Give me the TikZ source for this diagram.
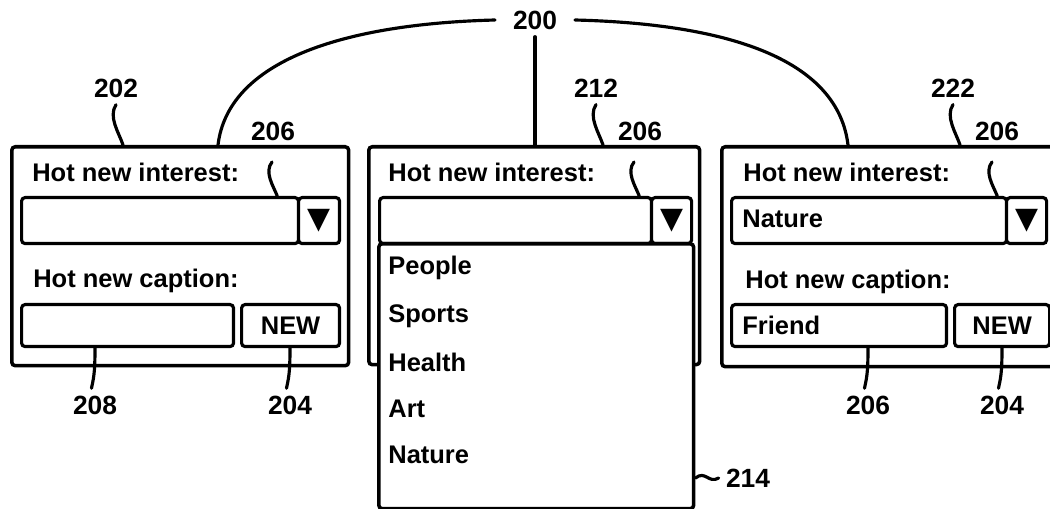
\documentclass[tikz,border=0pt]{standalone}
\usepackage{fontspec}
\setmainfont{Liberation Sans}
\newfontfamily\symbfont{DejaVu Sans}
\tikzset{
  panel/.style={draw, line width=2pt, rounded corners=2pt, anchor=north west, inner sep=0pt},
  field/.style={draw, line width=1.8pt, rounded corners=2pt, fill=white, anchor=north west, inner sep=0pt,
    font=\bfseries\fontsize{14.5}{15}\selectfont},
  txt/.style={font=\bfseries\fontsize{14.5}{15}\selectfont, anchor=west, inner sep=0pt},
  lbl/.style={font=\bfseries\fontsize{15}{15}\selectfont, inner sep=4pt},
  arrowhead/.style={font=\symbfont\fontsize{17}{17}\selectfont, inner sep=0pt},
  lead/.style={line width=1.8pt, line cap=round}
}
\begin{document}
\begin{tikzpicture}[x=0.02cm, y=-0.02cm]
  \clip (0,0) rectangle (1050,509);
  % first panel
  \node[panel, minimum width=6.74cm, minimum height=4.38cm] (p1) at (10,145) {};
  \node[txt] (h1) at (32,172) {Hot new interest:};
  \node[field, minimum width=5.54cm, minimum height=0.92cm] (f1) at (20,196) {};
  \node[field, minimum width=0.82cm, minimum height=0.92cm] (b1) at (297,196) {};
  \node[arrowhead] (a1) at (b1) {▼};
  \node[txt] (k1) at (33,281) {Hot new caption:};
  \node[field, minimum width=4.24cm, minimum height=0.84cm] (c1) at (20,303) {};
  \node[field, minimum width=1.96cm, minimum height=0.84cm] (n1) at (240,303) {NEW};
  % second panel, list open
  \node[panel, minimum width=6.62cm, minimum height=4.36cm] (p2) at (367,145) {};
  \node[txt] (h2) at (388,172) {Hot new interest:};
  \node[field, minimum width=5.44cm, minimum height=0.92cm] (f2) at (378,196) {};
  \node[field, minimum width=0.8cm, minimum height=0.92cm] (b2) at (650,196) {};
  \node[arrowhead] (a2) at (b2) {▼};
  \node[field, line width=2pt, minimum width=6.3cm, minimum height=5.3cm] (L) at (377,242) {};
  \foreach \t/\y in {People/268, Sports/316, Health/362, Art/409, Nature/455}
    \node[txt] (\t) at (388,\y) {\t};
  % third panel
  \node[panel, minimum width=6.8cm, minimum height=4.4cm] (p3) at (720,145) {};
  \node[txt] (h3) at (743,172) {Hot new interest:};
  \node[field, minimum width=5.5cm, minimum height=0.92cm] (f3) at (730,196) {};
  \node[field, minimum width=0.8cm, minimum height=0.92cm] (b3) at (1005,196) {};
  \node[arrowhead] (a3) at (b3) {▼};
  \node[txt] (v3) at (742,219) {Nature};
  \node[txt] (k3) at (745,282) {Hot new caption:};
  \node[field, minimum width=4.3cm, minimum height=0.84cm] (c3) at (730,303) {};
  \node[txt] (w3) at (742,325) {Friend};
  \node[field, minimum width=1.9cm, minimum height=0.84cm] (n3) at (953,303) {NEW};

  % reference numerals
  \node[lbl, inner xsep=10pt] (l200) at (535,20) {200};
  \node[lbl] (l202) at (116,88) {202};
  \node[lbl, inner sep=1pt] (l206a) at (273,131) {206};
  \node[lbl] (l212) at (596,88) {212};
  \node[lbl, inner sep=1pt] (l206b) at (640,131) {206};
  \node[lbl] (l222) at (953,88) {222};
  \node[lbl, inner sep=1pt] (l206c) at (997,131) {206};
  \node[lbl] (l208) at (95,405) {208};
  \node[lbl] (l204a) at (290,405) {204};
  \node[lbl] (l206d) at (868,405) {206};
  \node[lbl] (l204b) at (1002,405) {204};
  \node[lbl] (l214) at (748,478) {214};
  \coordinate (j1) at (218,145);
  \coordinate (j3) at (848,145);
  \coordinate (s1) at (272,162);
  \coordinate (s2) at (634,162);
  \coordinate (s3) at (992,162);

  % leaders
  \draw[lead] (l200.west) .. controls (340,24) and (228,62) .. (j1);
  \draw[lead] (l200.east) .. controls (735,24) and (838,62) .. (j3);
  \draw[lead] (l200.south) -- (l200 |- p2.north);
  \draw[lead] (l202.south) .. controls +(-8,12) and +(-4,-12) .. ([xshift=4pt]l202 |- p1.north);
  \draw[lead] (l212.south) .. controls +(-8,12) and +(-4,-12) .. ([xshift=4pt]l212 |- p2.north);
  \draw[lead] (l222.south) .. controls +(-8,12) and +(-4,-12) .. ([xshift=4pt]l222 |- p3.north);
  \foreach \s/\f in {s1/f1, s2/f2, s3/f3}
    \draw[lead] (\s) .. controls +(-8,10) and +(-4,-10) .. ([xshift=3pt]\s |- \f.north);
  \draw[lead] (l208 |- c1.south) .. controls +(0,26) and +(2,-10) .. ([xshift=-2pt]l208.north);
  \draw[lead] (l204a |- n1.south) .. controls +(0,26) and +(2,-10) .. ([xshift=-2pt]l204a.north);
  \draw[lead] (l206d |- c3.south) .. controls +(0,26) and +(2,-10) .. ([xshift=-2pt]l206d.north);
  \draw[lead] (l204b |- n3.south) .. controls +(0,26) and +(2,-10) .. ([xshift=-2pt]l204b.north);
  \draw[lead] (L.east |- l214) .. controls +(10,-8) and +(-10,6) .. (l214.west);
\end{tikzpicture}
\end{document}
